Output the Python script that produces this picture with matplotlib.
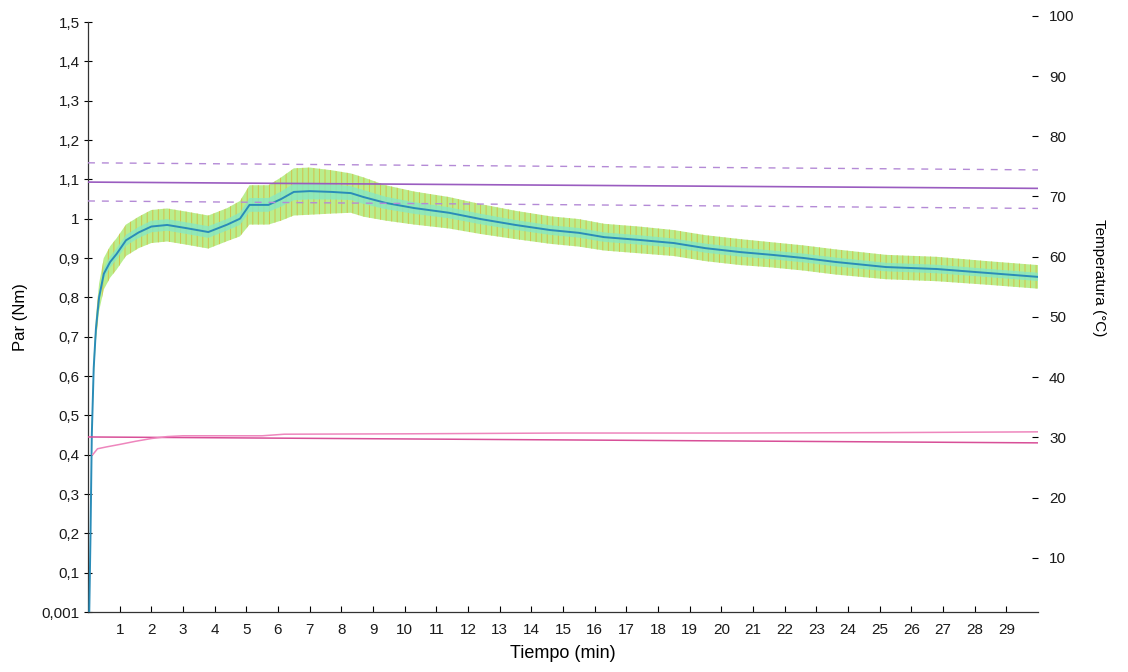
import matplotlib
matplotlib.use('Agg')
import matplotlib.pyplot as plt
import numpy as np

plt.rcParams['font.family'] = ['Liberation Sans', 'DejaVu Sans']
plt.rcParams['hatch.linewidth'] = 0.7

# torque (Par)
t_par = [0.04, 0.08, 0.12, 0.18, 0.25, 0.35, 0.5, 0.7, 0.9, 1.2, 1.6, 2.0, 2.5, 3.1, 3.8,
         4.4, 4.8, 5.1, 5.7, 6.1, 6.5, 7.0, 7.7, 8.3, 8.7, 9.4, 10.3, 11.4, 12.4, 13.5,
         14.6, 15.5, 16.3, 17.4, 18.5, 19.5, 20.6, 21.6, 22.6, 23.6, 25.2, 26.8, 28.4, 30.0]
par_mid = [0.0, 0.2, 0.45, 0.62, 0.72, 0.8, 0.86, 0.89, 0.91, 0.945, 0.965, 0.98, 0.984,
           0.976, 0.966, 0.985, 1.0, 1.035, 1.035, 1.05, 1.068, 1.07, 1.068, 1.065, 1.055,
           1.04, 1.027, 1.015, 0.999, 0.984, 0.971, 0.964, 0.953, 0.946, 0.938, 0.925,
           0.915, 0.908, 0.9, 0.89, 0.877, 0.872, 0.862, 0.852]
par_half = [0.01, 0.02, 0.03, 0.03, 0.03, 0.035, 0.04, 0.04, 0.04, 0.04, 0.04, 0.042,
            0.042, 0.042, 0.042, 0.042, 0.045, 0.05, 0.05, 0.055, 0.06, 0.06, 0.055,
            0.05, 0.05, 0.045, 0.042, 0.04, 0.038, 0.036, 0.035, 0.035, 0.034, 0.034,
            0.033, 0.033, 0.033, 0.032, 0.032, 0.032, 0.031, 0.031, 0.03, 0.03]

# reference lines (slightly tilted in the scan)
t_ends = [0, 30]
ref_solid = [1.093, 1.077]
ref_upper = [1.142, 1.124]
ref_lower = [1.045, 1.026]

# pink traces
t_pink = [0.15, 0.3, 0.6, 1.0, 1.5, 2.0, 2.5, 3.0, 5.5, 6.2, 10, 15, 20, 25, 30]
pink_rise = [0.40, 0.415, 0.42, 0.426, 0.434, 0.441, 0.446, 0.448, 0.448, 0.452,
             0.453, 0.455, 0.455, 0.456, 0.458]
pink_flat = [0.445, 0.430]

x_ticks = list(range(1, 30))
y_ticks = [0, 0.1, 0.2, 0.3, 0.4, 0.5, 0.6, 0.7, 0.8, 0.9, 1.0, 1.1, 1.2, 1.3, 1.4, 1.5]
y_labels = ['0,001', '0,1', '0,2', '0,3', '0,4', '0,5', '0,6', '0,7', '0,8', '0,9', '1',
            '1,1', '1,2', '1,3', '1,4', '1,5']
temp_ticks = [10, 20, 30, 40, 50, 60, 70, 80, 90, 100]

fig = plt.figure(figsize=(11.28, 6.72), dpi=100)
ax = fig.add_axes([88 / 1128, 1 - 612 / 672, (1038 - 88) / 1128, (612 - 22) / 672])

mid = np.array(par_mid)
half = np.array(par_half)
ax.fill_between(t_par, mid - half, mid + half, facecolor='#b9ee8c', edgecolor='#d2c04e',
                hatch='|||', linewidth=0, zorder=2)
ax.fill_between(t_par, mid - half * 0.35, mid + half * 0.35, facecolor='#86e8c4',
                linewidth=0, alpha=0.8, zorder=3)
ax.plot(t_par, mid, color='#2a8cb8', lw=1.4, zorder=4)

ax.plot(t_ends, ref_solid, color='#9a5cc0', lw=1.2, zorder=5)
ax.plot(t_ends, ref_upper, color='#b48ad6', lw=1.0, ls=(0, (5, 5)), zorder=5)
ax.plot(t_ends, ref_lower, color='#b48ad6', lw=1.0, ls=(0, (5, 5)), zorder=5)

ax.plot(t_ends, pink_flat, color='#d84f98', lw=1.1, zorder=5)
ax.plot(t_pink, pink_rise, color='#ee86bd', lw=1.1, zorder=5)

ax.set_xlim(0, 30)
ax.set_ylim(0, 1.5)
ax.set_xticks(x_ticks)
ax.set_xticklabels([str(v) for v in x_ticks], fontsize=11, color='#1a1a1a')
ax.set_yticks(y_ticks)
ax.set_yticklabels(y_labels, fontsize=11, color='#1a1a1a')
ax.tick_params(axis='x', direction='in', length=4, width=0.8, pad=8)
ax.tick_params(axis='y', direction='inout', length=6, width=0.8, pad=3)
ax.spines['top'].set_visible(False)
ax.spines['right'].set_visible(False)
for s in ['left', 'bottom']:
    ax.spines[s].set_linewidth(0.9)
    ax.spines[s].set_color('#333333')
ax.set_xlabel('Tiempo (min)', fontsize=13, labelpad=6)
ax.set_ylabel('Par (Nm)', fontsize=12, labelpad=10)

# temperature axis on the right
ax2 = fig.add_axes([88 / 1128, 1 - 612 / 672, (1038 - 88) / 1128, (612 - 5) / 672],
                   frameon=False)
ax2.patch.set_visible(False)
ax2.set_xlim(0, 30)
ax2.set_xticks([])
ax2.set_ylim(1.0, 101.8)
ax2.yaxis.tick_right()
ax2.yaxis.set_label_position('right')
ax2.spines['right'].set_visible(True)
ax2.spines['right'].set_linewidth(0.9)
ax2.spines['right'].set_color('#333333')
ax2.set_yticks(temp_ticks)
ax2.set_yticklabels([str(v) for v in temp_ticks], fontsize=11, color='#1a1a1a')
ax2.tick_params(axis='y', direction='in', length=4, width=0.8, pad=8)
ax2.set_ylabel('Temperatura (°C)', fontsize=11, rotation=-90)
ax2.yaxis.set_label_coords(1.072, 0.55)

fig.savefig('out.png', dpi=100)
